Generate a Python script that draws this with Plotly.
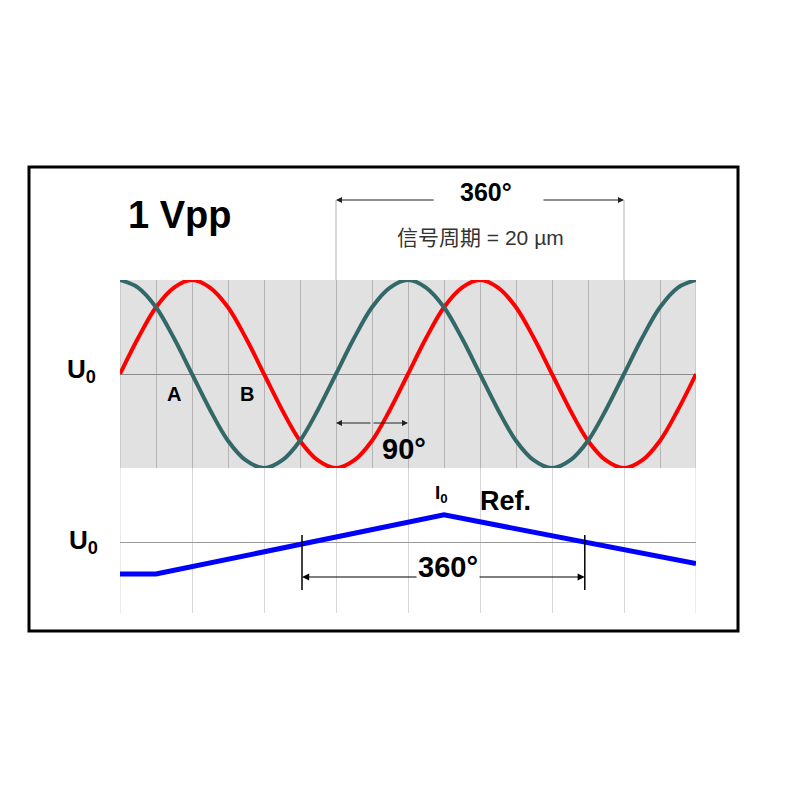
import plotly.graph_objects as go

# ---------------- data ----------------
phase_deg = [0, 22.5, 45, 67.5, 90, 112.5, 135, 157.5, 180, 202.5, 225, 247.5, 270,
             292.5, 315, 337.5, 360, 382.5, 405, 427.5, 450, 472.5, 495, 517.5, 540,
             562.5, 585, 607.5, 630, 652.5, 675, 697.5, 720]
signal_b = [0, 0.38, 0.71, 0.92, 1, 0.92, 0.71, 0.38, 0, -0.38, -0.71, -0.92, -1, -0.92,
            -0.71, -0.38, 0, 0.38, 0.71, 0.92, 1, 0.92, 0.71, 0.38, 0, -0.38, -0.71, -0.92,
            -1, -0.92, -0.71, -0.38, 0]
signal_a = [1, 0.92, 0.71, 0.38, 0, -0.38, -0.71, -0.92, -1, -0.92, -0.71, -0.38, 0, 0.38,
            0.71, 0.92, 1, 0.92, 0.71, 0.38, 0, -0.38, -0.71, -0.92, -1, -0.92, -0.71, -0.38,
            0, 0.38, 0.71, 0.92, 1]
ref_deg = [0, 45, 405, 720]
ref_val = [-0.33, -0.33, 0.30, -0.22]

period_bracket_deg = [270, 630]
period_gap_deg = [394, 527.5]
phase_arrow_deg = [270, 360]
ref_bracket_deg = [227.5, 581]
ref_gap_deg = [372.5, 447.5]

title_text = "<b>1 Vpp</b>"
period_label = "<b>360°</b>"
period_text = "信号周期 = 20 µm"
phase_label = "<b>90°</b>"
ref_label = "<b>Ref.</b>"
ref_period_label = "<b>360°</b>"

# ---------------- helpers ----------------
W = H = 800
def px(x):
    return x / W
def py(y):
    return 1 - y / H

FONT = "Liberation Sans, Arial, Noto Sans CJK SC, sans-serif"

fig = go.Figure()
fig.add_trace(go.Scatter(x=phase_deg, y=signal_b, mode="lines", line=dict(color="#ff0000", width=4, shape="spline", smoothing=1),
                         xaxis="x", yaxis="y", hoverinfo="skip"))
fig.add_trace(go.Scatter(x=phase_deg, y=signal_a, mode="lines", line=dict(color="#336868", width=4, shape="spline", smoothing=1),
                         xaxis="x", yaxis="y", hoverinfo="skip"))
fig.add_trace(go.Scatter(x=ref_deg, y=ref_val, mode="lines", line=dict(color="#0000ff", width=5),
                         xaxis="x2", yaxis="y2", hoverinfo="skip"))

xdom = [px(120), px(696)]
common_x = dict(range=[0, 720], showticklabels=False, ticks="", zeroline=False, showline=False, fixedrange=True)
fig.update_layout(
    width=W, height=H, margin=dict(l=0, r=0, t=0, b=0),
    paper_bgcolor="white", plot_bgcolor="rgba(0,0,0,0)", showlegend=False,
    xaxis=dict(domain=xdom, anchor="y", dtick=45, tick0=0, showgrid=True, gridcolor="#b4b4b4", gridwidth=1, **common_x),
    yaxis=dict(domain=[py(468), py(280)], anchor="x", range=[-1, 1], showgrid=False, showticklabels=False, ticks="",
               zeroline=True, zerolinecolor="#8a8a8a", zerolinewidth=1, showline=False),
    xaxis2=dict(domain=xdom, anchor="y2", dtick=90, tick0=0, showgrid=True, gridcolor="#d6d6d6", gridwidth=1, **common_x),
    yaxis2=dict(domain=[py(613), py(468)], anchor="x2", range=[-0.745, 0.798], showgrid=False, showticklabels=False,
                ticks="", zeroline=True, zerolinecolor="#9a9a9a", zerolinewidth=1, showline=False),
)

shapes = []
# gray signal band
shapes.append(dict(type="rect", xref="x", yref="y", x0=phase_deg[0], x1=phase_deg[-1], y0=-1, y1=1,
                   fillcolor="#e1e1e1", line=dict(width=0), layer="below"))
# edge grid lines (plotly omits the ones on the range limits)
for d in (phase_deg[0], phase_deg[-1]):
    shapes.append(dict(type="line", xref="x", yref="y", x0=d, x1=d, y0=-1, y1=1,
                       line=dict(color="#b4b4b4", width=1), layer="below"))
    shapes.append(dict(type="line", xref="x2", yref="y2", x0=d, x1=d, y0=-0.745, y1=0.798,
                       line=dict(color="#d6d6d6", width=1), layer="below"))
# outer frame
shapes.append(dict(type="rect", xref="paper", yref="paper", x0=px(29), x1=px(738), y0=py(631), y1=py(167),
                   line=dict(color="black", width=3)))
# period bracket verticals
for d in period_bracket_deg:
    shapes.append(dict(type="line", xref="x", yref="paper", x0=d, x1=d, y0=py(200), y1=py(280),
                       line=dict(color="#b0b0b0", width=1)))
# reference bracket verticals
for d in ref_bracket_deg:
    shapes.append(dict(type="line", xref="x2", yref="paper", x0=d, x1=d, y0=py(535), y1=py(590),
                       line=dict(color="black", width=1.5)))
fig.update_layout(shapes=shapes)

ann = []
def arrow(xref, x_head, x_tail, y, color="#222", width=1):
    ann.append(dict(xref=xref, yref="paper", x=x_head, y=y, axref=xref, ax=x_tail, ayref="pixel", ay=0,
                    text="", showarrow=True, arrowhead=2, arrowsize=1.2, arrowwidth=width, arrowcolor=color,
                    standoff=0, startstandoff=0))

# top period bracket
arrow("x", period_bracket_deg[0], period_gap_deg[0], py(200))
arrow("x", period_bracket_deg[1], period_gap_deg[1], py(200))
# 90 degree arrow
mid = (phase_arrow_deg[0] + phase_arrow_deg[1]) / 2
arrow("x", phase_arrow_deg[0], mid, py(423))
arrow("x", phase_arrow_deg[1], mid, py(423))
# reference bracket arrow
arrow("x2", ref_bracket_deg[0], ref_gap_deg[0], py(577), color="black", width=1.2)
arrow("x2", ref_bracket_deg[1], ref_gap_deg[1], py(577), color="black", width=1.2)

def text(t, x, y, size, color="black"):
    ann.append(dict(xref="paper", yref="paper", x=px(x), y=py(y), text=t, showarrow=False,
                    xanchor="center", yanchor="middle", font=dict(family=FONT, size=size, color=color)))

text(title_text, 179, 215, 38)
text(period_label, 486, 192, 25)
text(period_text, 481, 237, 21, color="#333333")
text("<b>U<sub>0</sub></b>", 81, 370, 26)
text("<b>U<sub>0</sub></b>", 83, 541, 26)
text("<b>A</b>", 174, 394, 20)
text("<b>B</b>", 247, 394, 20)
text(phase_label, 404, 449, 29)
text("<b>I<sub>0</sub></b>", 441, 494, 19)
text(ref_label, 505, 501, 27)
text(ref_period_label, 448, 567, 29)

fig.update_layout(annotations=ann)
fig.write_html("out.html")
